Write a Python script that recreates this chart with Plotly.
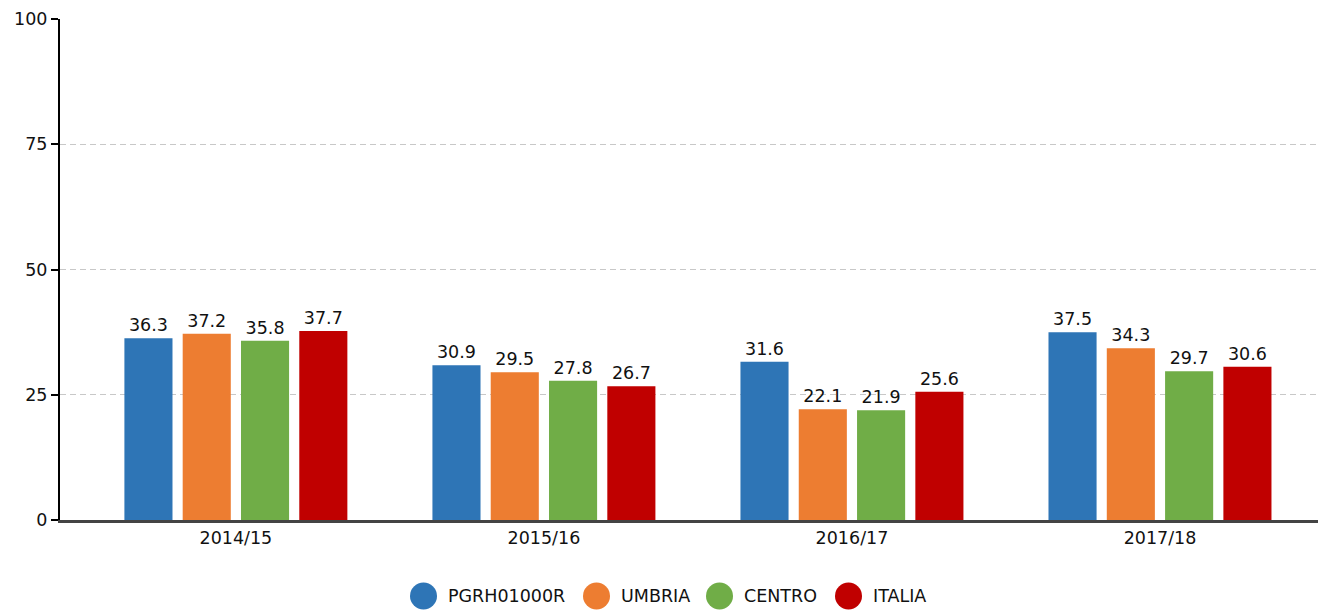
import plotly.graph_objects as go

categories = ["2014/15", "2015/16", "2016/17", "2017/18"]
series_names = ["PGRH01000R", "UMBRIA", "CENTRO", "ITALIA"]
pgrh = [36.3, 30.9, 31.6, 37.5]
umbria = [37.2, 29.5, 22.1, 34.3]
centro = [35.8, 27.8, 21.9, 29.7]
italia = [37.7, 26.7, 25.6, 30.6]
colors = ["#2e75b6", "#ed7d31", "#70ad47", "#c00000"]
y_ticks = [0, 25, 50, 75, 100]

font_family = "DejaVu Sans"
fs = 17.5

W, H = 1320, 602
ML, MR, MT, MB = 52, 10, 11, 90
PW, PH = W - ML - MR, H - MT - MB

fig = go.Figure()
for name, vals, col in zip(series_names, [pgrh, umbria, centro, italia], colors):
    fig.add_trace(go.Bar(
        x=categories, y=vals, name=name, marker=dict(color=col, line=dict(width=0)),
        text=[f"{v:.1f}" for v in vals], textposition="outside",
        textfont=dict(size=fs, color="#111", family=font_family),
        cliponaxis=False, showlegend=False,
    ))

# custom legend (large circles) positioned in figure pixels
legend_circle_px = [415.5, 588.5, 711.5, 840.5]
legend_y_px = 588
shapes, annotations = [], []
for name, col, cx in zip(series_names, colors, legend_circle_px):
    px = (cx - ML) / PW
    py = (MT + PH - legend_y_px) / PH
    shapes.append(dict(type="circle", xref="paper", yref="paper", xsizemode="pixel", ysizemode="pixel",
                       xanchor=px, yanchor=py, x0=-13.5, x1=13.5, y0=-13.5, y1=13.5,
                       fillcolor=col, line=dict(width=0)))
    annotations.append(dict(text=name, xref="paper", yref="paper", x=(cx + 22 - ML) / PW, y=py,
                            xanchor="left", yanchor="middle", showarrow=False,
                            font=dict(size=fs, family=font_family, color="#111")))

fig.update_layout(
    width=W, height=H,
    margin=dict(l=ML, r=MR, t=MT, b=MB, autoexpand=False),
    plot_bgcolor="white", paper_bgcolor="white",
    barmode="group", bargap=0.243, bargroupgap=0.175,
    font=dict(family=font_family, size=fs, color="#111"),
    showlegend=False, shapes=shapes, annotations=annotations,
    xaxis=dict(type="category", range=[-0.571, 3.513], showline=True, linecolor="#444",
               linewidth=3, ticks="", showgrid=False, zeroline=False, automargin=False,
               tickfont=dict(size=fs)),
    yaxis=dict(range=[0, 100], tickvals=y_ticks, showline=True, linecolor="black", linewidth=2,
               ticks="outside", ticklen=7, tickwidth=2, tickcolor="black", automargin=False,
               showgrid=True, gridcolor="#c8c8c8", griddash="6px,4px", gridwidth=1,
               zeroline=False, tickfont=dict(size=fs)),
)
fig.write_html("out.html")
